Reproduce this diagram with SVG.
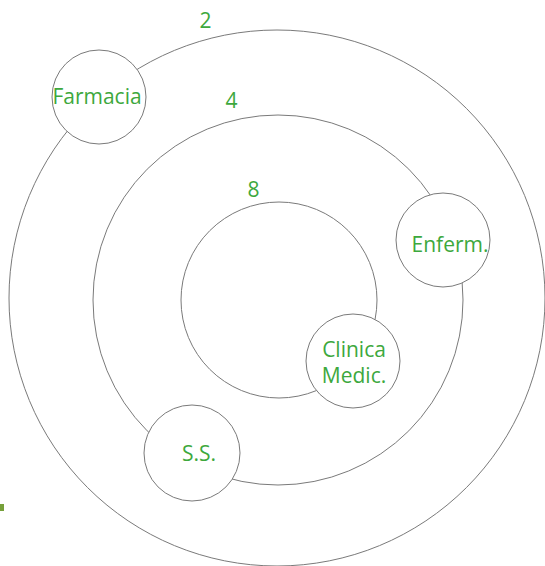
<svg xmlns="http://www.w3.org/2000/svg" width="545" height="566" viewBox="0 0 545 566">
<style>
.ring{fill:none;stroke:#7a7a7a;stroke-width:1}
.node{fill:#ffffff;stroke:#7a7a7a;stroke-width:1}
.lbl{font-family:"Open Sans","Noto Sans",sans-serif;font-size:21px;fill:#3da83d;text-anchor:middle}
</style>
<rect width="545" height="566" fill="#ffffff"/>
<g id="ring-2">
<circle class="ring" cx="277" cy="298" r="268"/>
<text class="lbl" x="205.5" y="28">2</text>
</g>
<g id="ring-4">
<circle class="ring" cx="278" cy="300" r="185"/>
<text class="lbl" x="231.5" y="108">4</text>
</g>
<g id="ring-8">
<circle class="ring" cx="279" cy="300" r="98"/>
<text class="lbl" x="253.5" y="197">8</text>
</g>
<g id="farmacia">
<circle class="node" cx="99" cy="97" r="47"/>
<text class="lbl" x="97" y="104">Farmacia</text>
</g>
<g id="enferm">
<circle class="node" cx="443" cy="240" r="47"/>
<text class="lbl" x="450" y="252">Enferm.</text>
</g>
<g id="clinica">
<circle class="node" cx="353" cy="361" r="47"/>
<text class="lbl" x="354" y="357">Clinica</text>
<text class="lbl" x="354" y="383">Medic.</text>
</g>
<g id="ss">
<circle class="node" cx="192" cy="453" r="48"/>
<text class="lbl" x="199" y="461">S.S.</text>
</g>
<rect x="0" y="504" width="4" height="7" fill="#76a03a"/>
</svg>
